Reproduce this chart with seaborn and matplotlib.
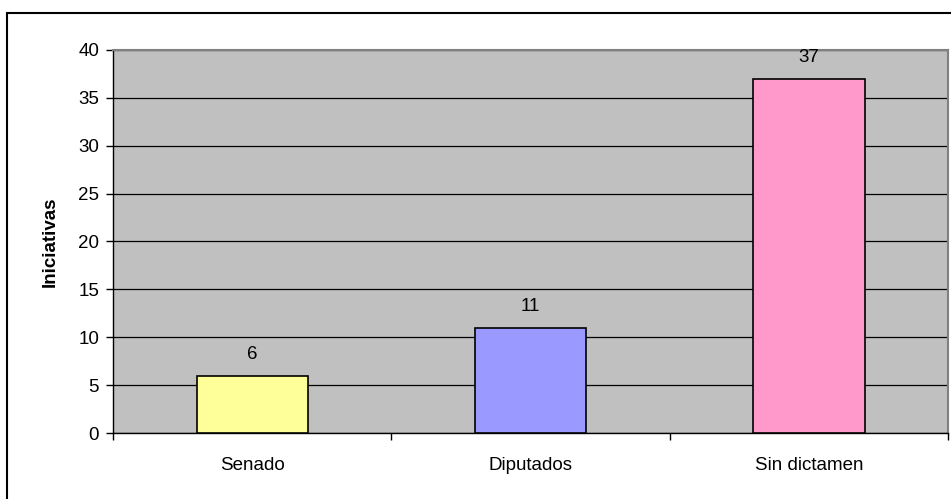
import matplotlib
matplotlib.use("Agg")
import matplotlib.pyplot as plt
import seaborn as sns
import pandas as pd
from matplotlib.patches import Rectangle

categories = ["Senado", "Diputados", "Sin dictamen"]
values = [6, 11, 37]
colors = ["#FFFF99", "#9999FF", "#FF99CC"]
y_ticks = [0, 5, 10, 15, 20, 25, 30, 35, 40]
y_label = "Iniciativas"

sns.set_theme(style="white")
plt.rcParams["font.family"] = ["Liberation Sans", "DejaVu Sans"]

df = pd.DataFrame({"cat": categories, "val": values})

fig = plt.figure(figsize=(9.51, 4.99), dpi=100)
ax = fig.add_axes([113/951, 1 - 433/499, (948-113)/951, (433-50)/499])
ax.set_facecolor("#C0C0C0")

sns.barplot(data=df, x="cat", y="val", hue="cat", palette=colors, width=0.4,
            saturation=1, edgecolor="black", linewidth=1.2, legend=False,
            ax=ax, zorder=3)

ax.set_ylim(0, 40)
ax.set_xlim(-0.5, 2.5)
ax.set_yticks(y_ticks)
ax.yaxis.grid(True, color="black", linewidth=0.9, zorder=0)
ax.set_axisbelow(True)
ax.tick_params(axis="y", direction="out", length=5, width=1, color="black",
               labelsize=13.5, labelcolor="black", pad=5, left=True)

ax.set_xticks([-0.5, 0.5, 1.5, 2.5])
ax.set_xticklabels([])
ax.set_xticks([0, 1, 2], minor=True)
ax.set_xticklabels(categories, minor=True)
ax.tick_params(axis="x", which="major", direction="out", length=5, width=1,
               color="black", bottom=True)
ax.tick_params(axis="x", which="minor", length=0, labelsize=13.5,
               labelcolor="black", pad=17)

ax.set_xlabel("")
ax.set_ylabel(y_label, fontsize=13.5, fontweight="bold", color="black", labelpad=14)

for s in ["left", "bottom"]:
    ax.spines[s].set_color("black")
    ax.spines[s].set_linewidth(1)
for s in ["top", "right"]:
    ax.spines[s].set_color("#808080")
    ax.spines[s].set_linewidth(1.5)

for c in ax.containers:
    ax.bar_label(c, fontsize=13.5, padding=9, color="black")

fig.patches.append(Rectangle((7/951, -0.05), 1.0, 1 - 13/499 + 0.05,
                             transform=fig.transFigure, fill=False,
                             edgecolor="black", linewidth=1.5))

fig.savefig("out.png", dpi=100)
